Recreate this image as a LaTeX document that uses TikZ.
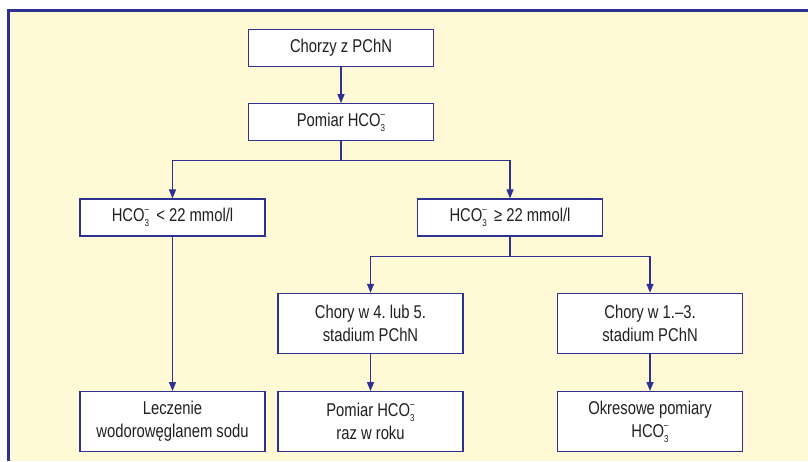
\documentclass[tikz,border=0pt]{standalone}
\usepackage{fontspec}
\setmainfont{Liberation Sans}[FakeStretch=0.8]
\usetikzlibrary{positioning,arrows.meta}

\definecolor{frameblue}{HTML}{2E3192}
\definecolor{paleyellow}{HTML}{FFF9D6}
\definecolor{inkblack}{HTML}{231F20}
\newcommand{\hcothree}{HCO\rlap{\raisebox{0.5em}{\fontsize{10}{10}\selectfont --}}\raisebox{-0.25em}{\fontsize{10}{10}\selectfont 3}}

\begin{document}
\frenchspacing
\begin{tikzpicture}[x=1pt, y=1pt,
	box/.style={draw=frameblue, line width=1.3pt, fill=white, text=inkblack, align=center,
		minimum width=185pt, inner sep=0pt, font=\fontsize{18.5}{23}\selectfont},
	onerow/.style={box, minimum height=37pt},
	tworow/.style={box, minimum height=60pt},
	flow/.style={draw=frameblue, line width=1.3pt, -{Triangle[width=7pt,length=9pt]}}]
	\useasboundingbox (0,0) rectangle (808,-461);
	\fill[paleyellow] (8,-10) rectangle (808,-461);
	\draw[frameblue, line width=3pt] (8,-461) -- (8,-10) -- (808,-10);

	\node[onerow] (chorzy) at (341,-48) {Chorzy z PChN};
	\node[onerow, below = 36pt of chorzy] (pomiar) {Pomiar \hcothree};
	\node[onerow, below = 57pt of pomiar, xshift=-168.5pt] (niski) {\hcothree\ \,< 22 mmol/l};
	\node[onerow, below = 57pt of pomiar, xshift=169pt] (wysoki) {\hcothree\ \,≥ 22 mmol/l};
	\node[tworow, below = 56pt of wysoki, xshift=-139.5pt] (zaawans) {Chory w 4. lub 5.\\stadium PChN};
	\node[tworow, below = 56pt of wysoki, xshift=140pt] (wczesne) {Chory w 1.--3.\\stadium PChN};
	\node[tworow, below = 37pt of zaawans] (rocznie) {Pomiar \hcothree\\raz w roku};
	\node[tworow, below = 37pt of wczesne] (okresowe) {Okresowe pomiary\\\hcothree};
	\node[tworow] (leczenie) at (niski |- rocznie) {Leczenie\\wodorowęglanem sodu};

	\draw[flow] (chorzy) -- (pomiar);
	\draw[flow] (pomiar.south) -- ++(0,-19pt) -| (niski.north);
	\draw[flow] (pomiar.south) -- ++(0,-19pt) -| (wysoki.north);
	\draw[flow] (wysoki.south) -- ++(0,-20pt) -| (zaawans.north);
	\draw[flow] (wysoki.south) -- ++(0,-20pt) -| (wczesne.north);
	\draw[flow] (niski) -- (leczenie);
	\draw[flow] (zaawans) -- (rocznie);
	\draw[flow] (wczesne) -- (okresowe);
\end{tikzpicture}
\end{document}
